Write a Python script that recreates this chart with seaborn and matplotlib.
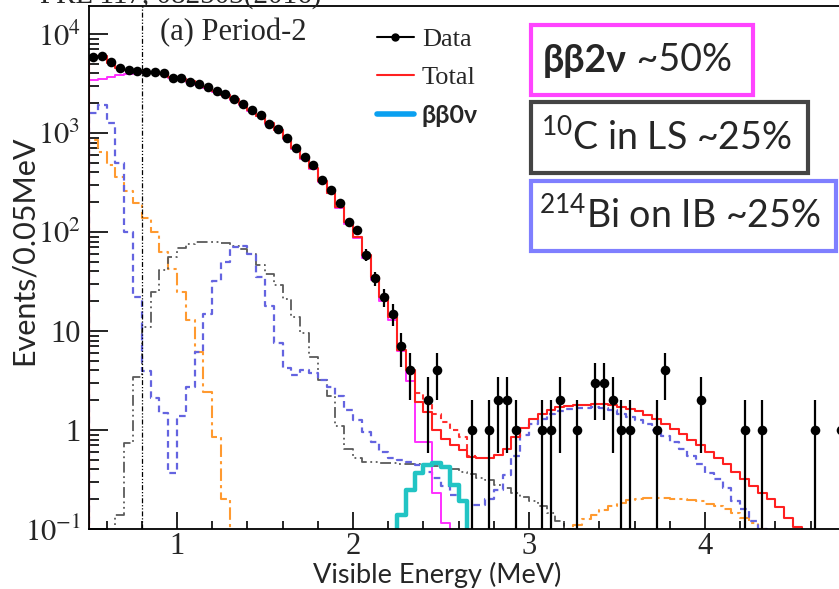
import numpy as np
import matplotlib
matplotlib.use("Agg")
import matplotlib.pyplot as plt
import seaborn as sns
from matplotlib.lines import Line2D
from matplotlib.patches import Rectangle
from matplotlib.ticker import FixedLocator, FixedFormatter, NullFormatter

# ---------------- data (events / 0.05 MeV) ----------------
BIN = 0.05
data_start = 0.5
data_counts = [5820, 6000, 5210, 4540, 4340, 4240, 4140, 4140, 4050, 3620,
               3570, 3300, 3110, 2940, 2660, 2480, 2190, 1960, 1710, 1520,
               1225, 1090, 890, 710, 575, 470, 335, 265, 195, 126,
               105, 59, 34, 22, 15, 7, 4, 0, 2, 4,
               0, 0, 0, 1, 0, 1, 2, 2, 1, 0,
               0, 1, 1, 2, 0, 1, 0, 3, 3, 2,
               1, 1, 0, 0, 1, 4, 0, 0, 0, 2,
               0, 0, 0, 0, 1, 0, 1, 0, 0, 0,
               0, 0, 1, 0, 0, 1]

total_start = 0.5
total_fit = [5800, 5950, 5150, 4560, 4300, 4200, 4100, 4080, 3980, 3650,
             3520, 3320, 3090, 2900, 2650, 2440, 2190, 1950, 1700, 1500,
             1260, 1080, 880, 700, 560, 440, 330, 250, 180, 125,
             90, 58, 35, 22, 14, 6.5, 4.0, 1.93, 1.52, 1.0,
             0.82, 0.70, 0.63, 0.53, 0.52, 0.52, 0.56, 0.65, 0.85, 1.05,
             1.3, 1.45, 1.6, 1.7, 1.75, 1.78, 1.8, 1.82, 1.84, 1.78,
             1.7, 1.62, 1.55, 1.42, 1.3, 1.15, 1.03, 0.92, 0.8, 0.7,
             0.6, 0.52, 0.45, 0.38, 0.32, 0.27, 0.23, 0.2, 0.165, 0.13,
             0.105, 0.09]

total_alt_start = 2.35
total_alt = [2.35, 1.9, 1.45, 1.2, 1.0, 0.85, 0.55]

twonu_start = 0.5
bb2nu = [3400, 3550, 3700, 3850, 3950, 4030, 4060, 4060, 3960, 3600,
         3480, 3280, 3060, 2880, 2620, 2410, 2160, 1920, 1680, 1480,
         1240, 1060, 860, 690, 550, 430, 320, 245, 175, 120,
         86, 55, 33, 20, 13, 6.3, 3.1, 0.75, 0.75, 0.23,
         0.115]

zeronu_start = 2.25
bb0nu = [0.14, 0.25, 0.37, 0.44, 0.46, 0.42, 0.28, 0.19]

bi_start = 0.5
bi214 = [1600, 1900, 1250, 500, 100, 22, 3.9, 2.1, 1.5, 0.37,
         1.4, 2.7, 6.2, 15, 32, 50, 70, 72, 60, 35,
         18, 7.6, 4.2, 3.6, 4.0, 3.8, 3.2, 2.7, 2.2, 1.6,
         1.25, 0.95, 0.75, 0.6, 0.52, 0.5, 0.47, 0.44, 0.38, 0.33,
         0.27, 0.22, 0.19, 0.175, 0.175, 0.2, 0.25, 0.35, 0.55, 0.9,
         1.15, 1.3, 1.45, 1.55, 1.62, 1.66, 1.68, 1.70, 1.68, 1.6,
         1.45, 1.35, 1.25, 1.15, 1.0, 0.87, 0.75, 0.65, 0.55, 0.45,
         0.37, 0.32, 0.26, 0.19, 0.16, 0.12, 0.1, 0.08]

c10_start = 0.65
c10 = [0.14, 0.74, 3.4, 11, 25, 41, 56, 69, 75, 79,
       80, 80, 77, 73, 68, 60, 46, 38, 29, 21,
       14, 9.5, 5.5, 3.2, 2.2, 1.1, 0.65, 0.52, 0.48, 0.47,
       0.46, 0.46, 0.45, 0.45, 0.45, 0.44, 0.43, 0.42, 0.40, 0.38,
       0.36, 0.33, 0.31, 0.28, 0.26, 0.23, 0.21, 0.19, 0.17, 0.145,
       0.12, 0.10, 0.08]

other_lo_start = 0.5
other_lo = [850, 650, 480, 360, 260, 195, 140, 100, 63, 42,
            25, 13, 6.2, 2.4, 0.85, 0.2, 0.05]

other_hi_start = 3.2
other_hi = [0.10, 0.11, 0.125, 0.14, 0.155, 0.17, 0.185, 0.195, 0.2, 0.205,
            0.205, 0.205, 0.2, 0.2, 0.195, 0.19, 0.18, 0.17, 0.16, 0.145,
            0.13, 0.115, 0.1, 0.08]

xtick_vals = [1, 2, 3, 4]
xtick_labels = ["1", "2", "3", "4"]
ytick_vals = [0.1, 1, 10, 100, 1000, 10000]
ytick_labels = [r"$10^{-1}$", "1", "10", r"$10^{2}$", r"$10^{3}$", r"$10^{4}$"]

legend_labels = ["Data", "Total", "ββ0ν"]
box_texts = [r"$^{10}$C in LS ~25%", r"$^{214}$Bi on IB ~25%"]

# ---------------- style ----------------
sns.set_theme(style="ticks")
plt.rcParams["font.family"] = ["Liberation Serif", "DejaVu Serif"]
plt.rcParams["mathtext.fontset"] = "stix"
plt.rcParams["mathtext.rm"] = "Lato"
plt.rcParams["mathtext.it"] = "Lato:italic"
plt.rcParams["mathtext.bf"] = "Lato:bold"

W, H = 839, 589
fig = plt.figure(figsize=(W / 100, H / 100), dpi=100)
ax = fig.add_axes([89 / W, 60 / H, 792 / W, 523 / H])

FLOOR = 1e-3


def step_xy(start, vals, close=True):
    vals = np.asarray(vals, float)
    edges = start + BIN * np.arange(len(vals) + 1)
    xs = np.repeat(edges, 2)[1:-1]
    ys = np.repeat(vals, 2)
    if close:
        xs = np.r_[edges[0], xs, edges[-1]]
        ys = np.r_[FLOOR, ys, FLOOR]
    return xs, ys


def hist_line(start, vals, close=True, **kw):
    xs, ys = step_xy(start, vals, close)
    sns.lineplot(x=xs, y=ys, ax=ax, sort=False, estimator=None, **kw)


hist_line(other_lo_start, other_lo, color="#ff9a30", lw=1.5, ls=(0, (6, 2, 1.5, 2)))
hist_line(other_hi_start, other_hi, color="#ff9a30", lw=1.5, ls=(0, (6, 2, 1.5, 2)))
hist_line(c10_start, c10, color="#5a5a5a", lw=1.3, ls=(0, (6, 2, 1, 2, 1, 2)))
hist_line(bi_start, bi214, color="#6464e0", lw=1.6, ls=(0, (3, 2)))
hist_line(twonu_start, bb2nu, color="#ff30ff", lw=1.4)
hist_line(total_alt_start, total_alt, close=False, color="#ff3030", lw=1.5, ls=(0, (2.5, 2)))
hist_line(total_start, total_fit, color="#ff2020", lw=1.5)
hist_line(zeronu_start, bb0nu, color="#22c4c4", lw=3.2)

ax.axvline(0.8, color="black", lw=0.9, ls=(0, (4, 1.5, 1, 1.5, 1, 1.5)), zorder=3)

# data points
cnt = np.asarray(data_counts, float)
cen = data_start + BIN * (np.arange(len(cnt)) + 0.5)
m = cnt > 0
err = np.sqrt(cnt[m])
low = cnt[m] - np.maximum(cnt[m] - err, FLOOR)
ax.errorbar(cen[m], cnt[m], yerr=[low, err], fmt="none", ecolor="black",
            elinewidth=1.6, capsize=0, zorder=6)
sns.scatterplot(x=cen[m], y=cnt[m], ax=ax, color="black", s=48, linewidth=0, zorder=7)

ax.set_yscale("log", nonpositive="clip")
ax.set_xlim(0.5, 5.0)
ax.set_ylim(0.1, 10 ** (523 / 99 - 1))

ax.xaxis.set_major_locator(FixedLocator(xtick_vals))
ax.xaxis.set_major_formatter(FixedFormatter(xtick_labels))
ax.xaxis.set_minor_locator(FixedLocator(np.arange(0.6, 4.99, 0.2)))
ax.yaxis.set_major_locator(FixedLocator(ytick_vals))
ax.yaxis.set_major_formatter(FixedFormatter(ytick_labels))
ax.yaxis.set_minor_locator(FixedLocator([k * 10.0 ** d for d in range(-1, 5) for k in range(2, 10)]))
ax.yaxis.set_minor_formatter(NullFormatter())

ax.tick_params(which="both", direction="in", top=False, right=False, color="black", width=1.2)
ax.tick_params(axis="x", which="major", length=12, pad=2.5, labelsize=22)
ax.tick_params(axis="x", which="minor", length=6)
ax.tick_params(axis="y", which="major", length=14, pad=6, labelsize=22)
ax.tick_params(axis="y", which="minor", length=7)
for s in ax.spines.values():
    s.set_color("black")
    s.set_linewidth(1.3)
ax.set_xlabel("")
ax.set_ylabel("")

sans = ["Lato", "Noto Sans", "DejaVu Sans"]


def fx(x):
    return x / W


def fy(y):
    return 1 - y / H


fig.text(fx(24), fy(250), "Events/0.05MeV", rotation=90, ha="center", va="center",
         fontsize=22, family=sans)
fig.text(fx(437), fy(583.5), "Visible Energy (MeV)", ha="center", va="baseline",
         fontsize=19.5, family=sans)
fig.text(fx(40), fy(3), "PRL 117, 082503(2016)", ha="left", va="baseline", fontsize=21)
fig.text(fx(160), fy(40), "(a) Period-2", ha="left", va="baseline", fontsize=22)

# legend
handles = [Line2D([], [], color="black", marker="o", ms=5, lw=1.5),
           Line2D([], [], color="#ff2020", lw=1.5),
           Line2D([], [], color="#0aa0f0", lw=4)]
leg = ax.legend(handles, legend_labels, loc="upper left",
                bbox_to_anchor=(fx(377), fy(28)), bbox_transform=fig.transFigure,
                frameon=False, fontsize=19, handlelength=1.4, handletextpad=0.3,
                borderpad=0, borderaxespad=0, labelspacing=0.55)
lt = leg.get_texts()[2]
lt.set_family(sans)
lt.set_fontweight("bold")
lt.set_fontsize(18)

# annotation boxes
boxes = [(531, 25, 753, 95, "#ff44ff"),
         (531, 102, 808, 173, "#444444"),
         (531, 181, 836, 251, "#7f7fff")]
for x0, y0, x1, y1, c in boxes:
    fig.add_artist(Rectangle((fx(x0), fy(y1)), fx(x1 - x0), (y1 - y0) / H,
                             transform=fig.transFigure, fill=False, ec=c, lw=3))

BOX_FS = 27
t1 = fig.text(fx(543), fy(72), "ββ2ν", ha="left", va="baseline", fontsize=BOX_FS,
              family=sans, fontweight="bold")
ax.annotate(" ~50%", xy=(1, 0), xycoords=t1, xytext=(0, 0), textcoords="offset points",
            ha="left", va="bottom", fontsize=BOX_FS, family=sans, annotation_clip=False)
fig.text(fx(541), fy(150), box_texts[0], ha="left", va="baseline",
         fontsize=BOX_FS, family=sans, math_fontfamily="custom")
fig.text(fx(539), fy(228), box_texts[1], ha="left", va="baseline",
         fontsize=BOX_FS, family=sans, math_fontfamily="custom")

fig.savefig("out.png", dpi=100)
